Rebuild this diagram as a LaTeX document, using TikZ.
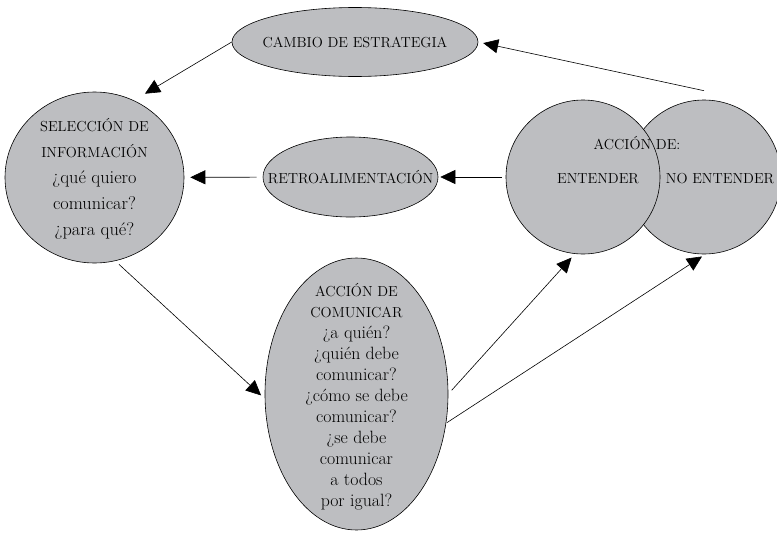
\documentclass[tikz,border=0pt]{standalone}
\usepackage{tikz}
\usetikzlibrary{shapes.geometric}
\usetikzlibrary{arrows.meta}
\definecolor{globogris}{RGB}{189,190,193}
\newcommand{\versal}{\fontsize{14.5}{21}\selectfont}

\begin{document}
\begin{tikzpicture}[x=1pt,y=-1pt,
  globo/.style={ellipse,draw,fill=globogris,line width=0.6pt,inner sep=0pt},
  rotulo/.style={align=center,inner sep=0pt,text=black},
  flecha/.style={-{Triangle[length=15pt,width=14pt]},line width=0.6pt}]
\useasboundingbox (0,0) rectangle (777,533);
\node (cambio) [globo,minimum width=246pt,minimum height=69pt] at (355,42) {};
\node (seleccion) [globo,minimum width=179pt,minimum height=171pt] at (94.5,177.5) {};
\node (retro) [globo,minimum width=175pt,minimum height=80pt] at (350.5,177) {};
\node (noentender) [globo,minimum size=154pt] at (704,177) {};
\node (entender) [globo,minimum size=154pt] at (583,177) {};
\node (comunicar) [globo,minimum width=183pt,minimum height=272pt] at (356.5,394) {};
\node (cambiotxt) [rotulo,font=\versal] at (cambio) {CAMBIO DE ESTRATEGIA};
\node (selecciontxt) [rotulo,font=\fontsize{18.3}{26}\selectfont] at ([yshift=-1pt]seleccion) {{\versal SELECCIÓN DE}\\{\versal INFORMACIÓN}\\¿qué quiero\\comunicar?\\¿para qué?};
\node (retrotxt) [rotulo,font=\versal] at (retro) {RETROALIMENTACIÓN};
\node (acciontxt) [rotulo,font=\versal] at (637,143) {ACCIÓN DE:};
\node (entendertxt) [rotulo,font=\versal] at (598,179) {ENTENDER};
\node (noentendertxt) [rotulo,font=\versal] at (720,179) {NO ENTENDER};
\node (comunicartxt) [rotulo,font=\fontsize{17.8}{21}\selectfont] at ([yshift=-3pt]comunicar) {{\versal ACCIÓN DE}\\{\versal COMUNICAR}\\¿a quién?\\¿quién debe\\comunicar?\\¿cómo se debe\\comunicar?\\¿se debe\\comunicar\\a todos\\por igual?};
\coordinate (salida) at ([yshift=9pt]noentender.north);
\draw[flecha,shorten >=13pt] (cambio.west) -- (seleccion.63);
\draw[flecha,shorten >=5pt] (salida) -- (cambio.east);
\draw[flecha,shorten <=4pt,shorten >=2pt] (entender) -- (retro);
\draw[flecha,shorten <=6pt,shorten >=6pt] (retro) -- (seleccion);
\draw[flecha,shorten <=5pt,shorten >=5pt] (seleccion.-76) -- (comunicar.183);
\draw[flecha,shorten <=5pt,shorten >=5pt] (comunicar.east) -- (entender.-96);
\draw[flecha,shorten <=1pt,shorten >=4pt] (comunicar.-18) -- (noentender.-89);
\end{tikzpicture}
\end{document}
